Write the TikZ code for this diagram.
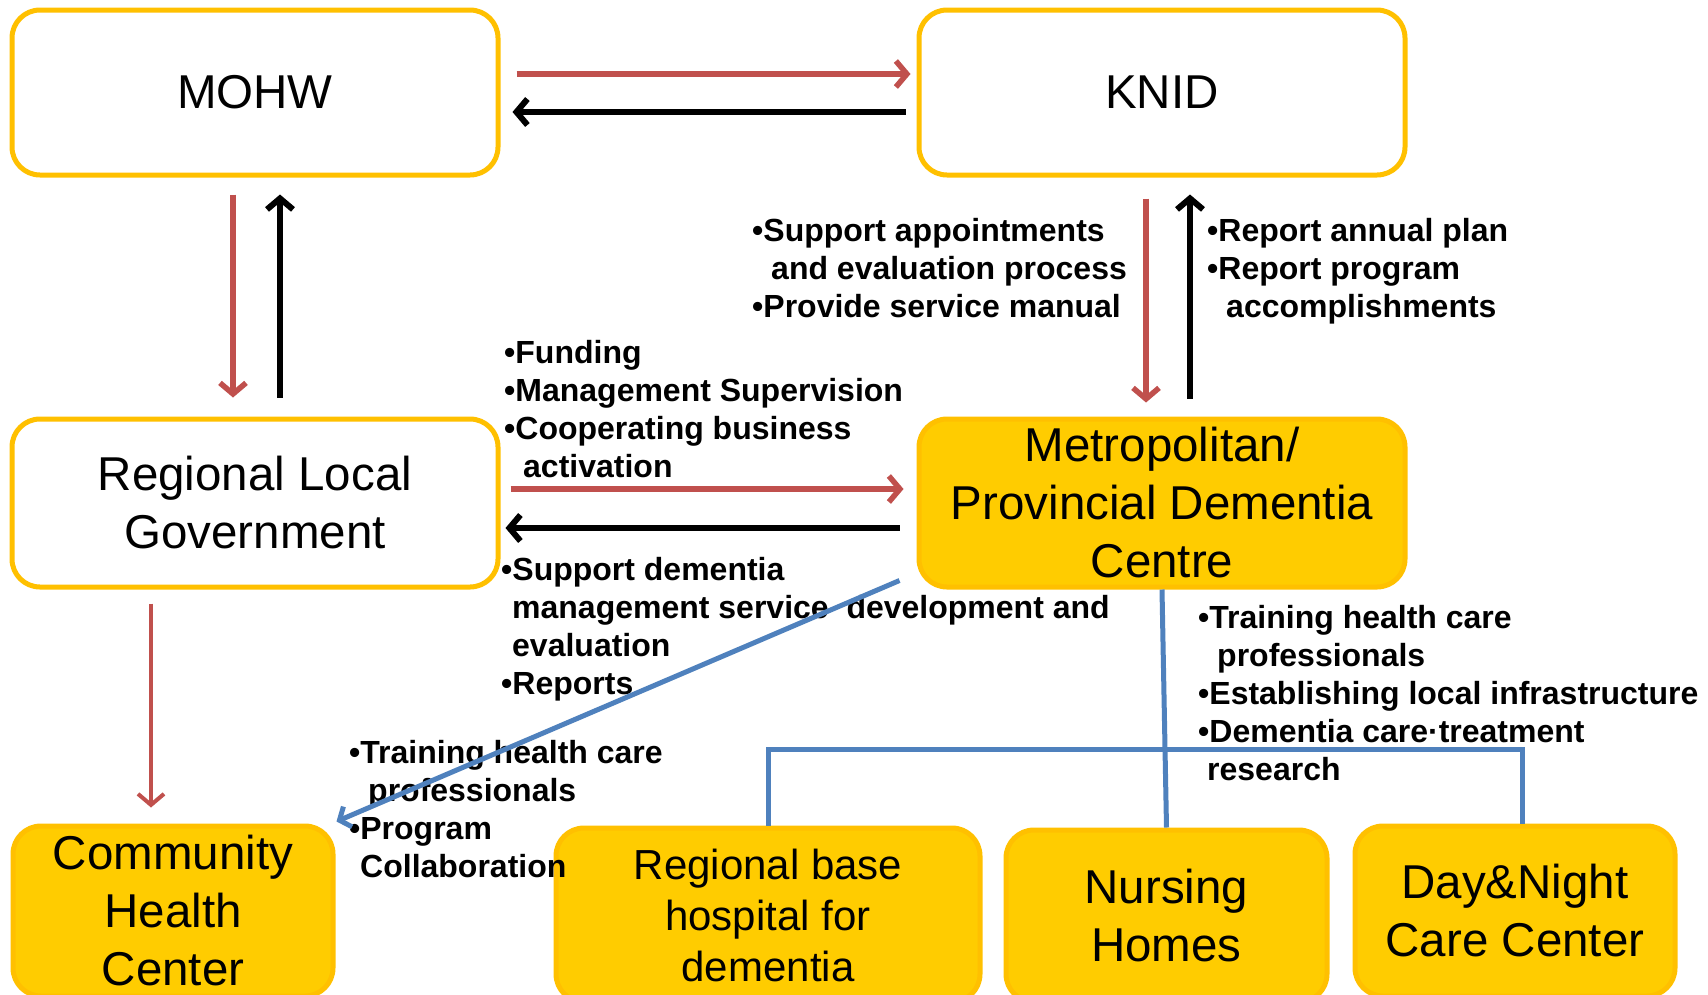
\documentclass[tikz,border=0pt]{standalone}
\usepackage{fontspec}
\setmainfont{Liberation Sans}
\usepackage{xcolor}
\usetikzlibrary{arrows.meta, positioning, calc}

\definecolor{boxgold}{RGB}{255,192,0}
\definecolor{boxfill}{RGB}{255,204,0}
\definecolor{arrowred}{RGB}{192,80,77}
\definecolor{linkblue}{RGB}{79,129,189}

\begin{document}
\begin{tikzpicture}[x=1pt, y=-1pt,
    whitebox/.style={draw=boxgold, line width=5pt, fill=white, rounded corners=28pt,
        minimum width=486pt, minimum height=165pt, inner sep=0pt, align=center,
        font=\fontsize{47.5}{58}\selectfont},
    goldbox/.style={whitebox, fill=boxfill},
    note/.style={anchor=west, align=left, inner sep=0pt, font=\fontsize{32}{38}\selectfont\bfseries},
    redarrow/.style={draw=arrowred, line width=5.5pt, -{Straight Barb[length=11pt,width=26pt]}},
    blackarrow/.style={draw=black, line width=6pt, -{Straight Barb[length=11pt,width=26pt]}},
    bluelink/.style={draw=linkblue, line width=5pt}
]
\useasboundingbox (0,0) rectangle (1708,994);

% Boxes
\node[whitebox] (mohw) at (255,92.5) {MOHW};
\node[whitebox] (knid) at (1162,92.5) {KNID};
\node[whitebox, minimum height=168pt] (rlg) at (255,503) {Regional Local\\Government};
\node[goldbox, minimum height=168pt] (metro) at (1162,503) {Metropolitan/\\Provincial Dementia\\Centre};

\node[goldbox, minimum width=320pt, minimum height=170pt] (chc) at (173,911) {Community\\Health\\Center};
\node[goldbox, minimum width=424pt, minimum height=174pt,
      font=\fontsize{42}{51}\selectfont] (hospital) at (768,915) {Regional base\\hospital for\\dementia};
\node[goldbox, minimum width=321pt, minimum height=172pt] (nursing) at (1166.5,916) {Nursing\\Homes};
\node[goldbox, minimum width=320pt, minimum height=170pt] (daynight) at (1515,911) {Day\&Night\\Care Center};

% Texts
\node[note] (knidNote) at (752,268) {•Support appointments\\\hspace*{19pt}and evaluation process\\•Provide service manual};
\node[note] (reportNote) at (1207,271) {•Report annual plan\\•Report program\\\hspace*{19pt}accomplishments};
\node[note] (fundNote) at (504,409.5) {•Funding\\•Management Supervision\\•Cooperating business\\\hspace*{19pt}activation};
\node[note] (supportNote) at (501,629.5) {•Support dementia\\\hspace*{11pt}management service\ \ development and\\\hspace*{11pt}evaluation\\•Reports};
\node[note] (trainNote) at (1198,693) {•Training health care\\\hspace*{19pt}professionals\\•Establishing local infrastructure\\•Dementia care·treatment\\\hspace*{9pt}research};
\node[note] (chcNote) at (349,809.5) {•Training health care\\\hspace*{19pt}professionals\\•Program\\\hspace*{11pt}Collaboration};

% Arrows
\draw[redarrow] ([xshift=16pt,yshift=18.5pt]mohw.east) -- ([xshift=-6pt,yshift=18.5pt]knid.west);
\draw[blackarrow] ([xshift=-11pt,yshift=-19.5pt]knid.west) -- ([xshift=12pt,yshift=-19.5pt]mohw.east);
\draw[redarrow] ([xshift=-22pt,yshift=-17pt]mohw.south) -- ([xshift=-22pt,yshift=19pt]rlg.north);
\draw[blackarrow] ([xshift=25pt,yshift=19pt]rlg.north) -- ([xshift=25pt,yshift=-17pt]mohw.south);
\draw[redarrow] ([xshift=-16pt,yshift=-21pt]knid.south) -- ([xshift=-16pt,yshift=14pt]metro.north);
\draw[blackarrow] ([xshift=28pt,yshift=18pt]metro.north) -- ([xshift=28pt,yshift=-17pt]knid.south);
\draw[redarrow] ([xshift=10pt,yshift=14pt]rlg.east) -- ([xshift=-13pt,yshift=14pt]metro.west);
\draw[blackarrow] ([xshift=-17pt,yshift=-25pt]metro.west) -- ([xshift=5pt,yshift=-25pt]rlg.east);
\draw[redarrow, line width=4pt] ([xshift=-104pt,yshift=-14pt]rlg.south) -- ([xshift=-22pt,yshift=16pt]chc.north);

% Blue links
\draw[bluelink, -{Straight Barb[length=9pt,width=22pt]}] ([xshift=-17pt,yshift=9pt]metro.south west) -- ([xshift=1pt,yshift=2pt]chc.north east);
\draw[bluelink] (metro.south) -- (nursing.north);
\coordinate (bar) at (1165,749);
\coordinate (dnTop) at ([xshift=7pt]daynight.north);
\draw[bluelink] (hospital.north) -- (hospital.north |- bar) -- (dnTop |- bar) -- (dnTop);
\end{tikzpicture}
\end{document}
